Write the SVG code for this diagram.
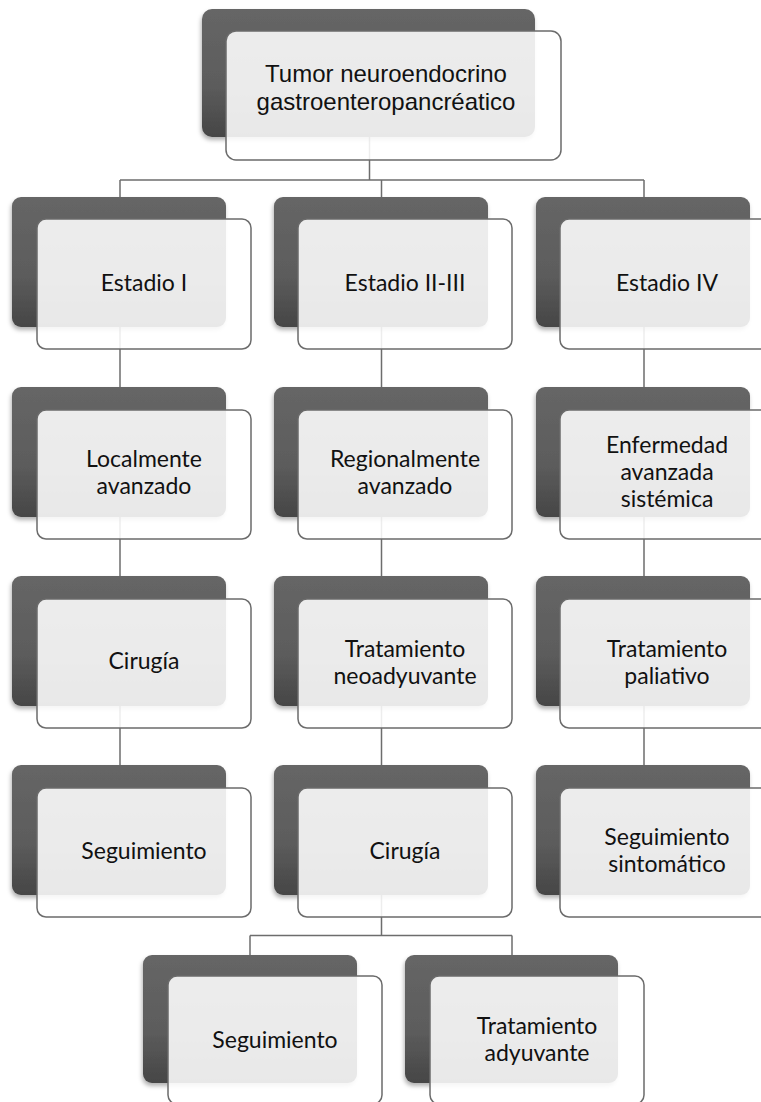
<svg xmlns="http://www.w3.org/2000/svg" width="761" height="1102" viewBox="0 0 761 1102">
  <defs>
    <linearGradient id="backFill" x1="0" y1="0" x2="0" y2="1">
      <stop offset="0" stop-color="#666666"/>
      <stop offset="0.6" stop-color="#5c5c5c"/>
      <stop offset="1" stop-color="#464646"/>
    </linearGradient>
    <filter id="softShadow" x="-10%" y="-10%" width="120%" height="125%">
      <feDropShadow dx="-1" dy="3" stdDeviation="2" flood-color="#000" flood-opacity="0.3"/>
    </filter>
  </defs>
  <style>
    .back { fill: url(#backFill); filter: url(#softShadow); }
    .front { fill: #ffffff; fill-opacity: 0.88; stroke: #6b6b6b; stroke-width: 1.5; }
    .link { fill: none; stroke: #6d6d6d; stroke-width: 1.5; }
    .lbl { font-family: Lato, "Open Sans", sans-serif; font-size: 23px; fill: #111111; text-anchor: middle; }
    .title { font-family: "Liberation Sans", Arial, sans-serif; font-size: 24px; fill: #111111; text-anchor: middle; }
  </style>
  <rect width="761" height="1102" fill="#ffffff"/>

  <!-- connectors -->
  <g id="connectors">
    <path class="link" d="M369.5,137 V180 M120,180 H644 M120,180 V197 M381.5,180 V197 M644,180 V197"/>
    <path class="link" d="M120,327 V387 M120,517 V576 M120,706 V765"/>
    <path class="link" d="M381.5,327 V387 M381.5,517 V576 M381.5,706 V765"/>
    <path class="link" d="M644,327 V387 M644,517 V576 M644,706 V765"/>
    <path class="link" d="M381.5,895 V935.5 M250,935.5 H512 M250,935.5 V955 M512,935.5 V955"/>
  </g>

  <!-- root -->
  <g id="root">
    <rect class="back" x="202" y="9" width="333" height="128" rx="10"/>
    <rect class="front" x="226" y="31" width="335" height="129" rx="10"/>
    <text class="title" x="386" y="82">Tumor neuroendocrino</text>
    <text class="title" x="386" y="110">gastroenteropancréatico</text>
  </g>

  <!-- column 1 -->
  <g id="estadio-i">
    <rect class="back" x="12" y="197" width="214" height="130" rx="9"/>
    <rect class="front" x="37" y="219" width="214" height="130" rx="9"/>
    <text class="lbl" x="144" y="291">Estadio I</text>
  </g>
  <g id="localmente-avanzado">
    <rect class="back" x="12" y="387" width="214" height="130" rx="9"/>
    <rect class="front" x="37" y="410" width="214" height="129" rx="9"/>
    <text class="lbl" x="144" y="467">Localmente</text>
    <text class="lbl" x="144" y="494">avanzado</text>
  </g>
  <g id="cirugia-1">
    <rect class="back" x="12" y="576" width="214" height="130" rx="9"/>
    <rect class="front" x="37" y="599" width="214" height="129" rx="9"/>
    <text class="lbl" x="144" y="669">Cirugía</text>
  </g>
  <g id="seguimiento-1">
    <rect class="back" x="12" y="765" width="214" height="130" rx="9"/>
    <rect class="front" x="37" y="788" width="214" height="129" rx="9"/>
    <text class="lbl" x="144" y="859">Seguimiento</text>
  </g>

  <!-- column 2 -->
  <g id="estadio-ii-iii">
    <rect class="back" x="274" y="197" width="214" height="130" rx="9"/>
    <rect class="front" x="298" y="219" width="214" height="130" rx="9"/>
    <text class="lbl" x="405" y="291">Estadio II-III</text>
  </g>
  <g id="regionalmente-avanzado">
    <rect class="back" x="274" y="387" width="214" height="130" rx="9"/>
    <rect class="front" x="298" y="410" width="214" height="129" rx="9"/>
    <text class="lbl" x="405" y="467">Regionalmente</text>
    <text class="lbl" x="405" y="494">avanzado</text>
  </g>
  <g id="tratamiento-neoadyuvante">
    <rect class="back" x="274" y="576" width="214" height="130" rx="9"/>
    <rect class="front" x="298" y="599" width="214" height="129" rx="9"/>
    <text class="lbl" x="405" y="657">Tratamiento</text>
    <text class="lbl" x="405" y="684">neoadyuvante</text>
  </g>
  <g id="cirugia-2">
    <rect class="back" x="274" y="765" width="214" height="130" rx="9"/>
    <rect class="front" x="298" y="788" width="214" height="129" rx="9"/>
    <text class="lbl" x="405" y="859">Cirugía</text>
  </g>

  <!-- column 3 -->
  <g id="estadio-iv">
    <rect class="back" x="536" y="197" width="214" height="130" rx="9"/>
    <rect class="front" x="560" y="219" width="214" height="130" rx="9"/>
    <text class="lbl" x="667" y="291">Estadio IV</text>
  </g>
  <g id="enfermedad-avanzada">
    <rect class="back" x="536" y="387" width="214" height="130" rx="9"/>
    <rect class="front" x="560" y="410" width="214" height="129" rx="9"/>
    <text class="lbl" x="667" y="453">Enfermedad</text>
    <text class="lbl" x="667" y="480">avanzada</text>
    <text class="lbl" x="667" y="507">sistémica</text>
  </g>
  <g id="tratamiento-paliativo">
    <rect class="back" x="536" y="576" width="214" height="130" rx="9"/>
    <rect class="front" x="560" y="599" width="214" height="129" rx="9"/>
    <text class="lbl" x="667" y="657">Tratamiento</text>
    <text class="lbl" x="667" y="684">paliativo</text>
  </g>
  <g id="seguimiento-sintomatico">
    <rect class="back" x="536" y="765" width="214" height="130" rx="9"/>
    <rect class="front" x="560" y="788" width="214" height="129" rx="9"/>
    <text class="lbl" x="667" y="845">Seguimiento</text>
    <text class="lbl" x="667" y="872">sintomático</text>
  </g>

  <!-- bottom row -->
  <g id="seguimiento-2">
    <rect class="back" x="143" y="955" width="214" height="128" rx="9"/>
    <rect class="front" x="168" y="976" width="214" height="128" rx="9"/>
    <text class="lbl" x="275" y="1048">Seguimiento</text>
  </g>
  <g id="tratamiento-adyuvante">
    <rect class="back" x="405" y="955" width="213" height="128" rx="9"/>
    <rect class="front" x="430" y="976" width="214" height="128" rx="9"/>
    <text class="lbl" x="537" y="1034">Tratamiento</text>
    <text class="lbl" x="537" y="1061">adyuvante</text>
  </g>
</svg>
